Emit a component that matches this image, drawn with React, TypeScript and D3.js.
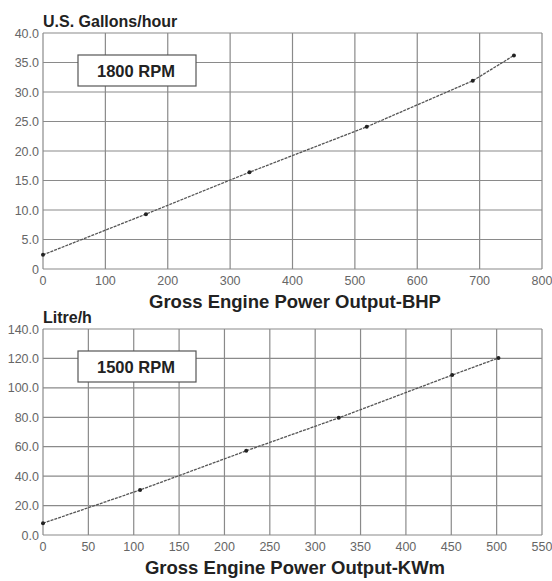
import React, { useEffect, useRef } from 'react'
import * as d3 from 'd3'

// 1800 RPM, US gallons per hour vs BHP
const bhpValues = [0, 165, 331, 519, 689, 755]
const gphValues = [2.4, 9.3, 16.4, 24.1, 31.9, 36.2]
const bhpTicks = [0, 100, 200, 300, 400, 500, 600, 700, 800]
const gphTicks = [0, 5, 10, 15, 20, 25, 30, 35, 40]

// 1500 RPM, litres per hour vs KWm
const kwmValues = [0, 107, 224, 326, 451, 502]
const lphValues = [8.0, 30.6, 57.2, 79.6, 108.7, 120.3]
const kwmTicks = [0, 50, 100, 150, 200, 250, 300, 350, 400, 450, 500, 550]
const lphTicks = [0, 20, 40, 60, 80, 100, 120, 140]

interface PanelCfg {
  top: number
  bottom: number
  xMax: number
  yMax: number
  xs: number[]
  ys: number[]
  xTicks: number[]
  yTicks: number[]
  yFmt: (v: number) => string
  yTitle: string
  xTitle: string
  rpm: string
}

const drawPanel = (svg: d3.Selection<SVGSVGElement, unknown, null, undefined>, cfg: PanelCfg) => {
  const left = 43
  const right = 542
  const x = d3.scaleLinear([0, cfg.xMax], [left, right])
  const y = d3.scaleLinear([0, cfg.yMax], [cfg.bottom, cfg.top])
  const g = svg.append('g')

  // grid
  g.selectAll('line.vx')
    .data(cfg.xTicks)
    .enter()
    .append('line')
    .attr('x1', (d) => x(d))
    .attr('x2', (d) => x(d))
    .attr('y1', cfg.top)
    .attr('y2', cfg.bottom)
    .attr('stroke', '#8a8a8a')
    .attr('stroke-width', 1.2)
  g.selectAll('line.hy')
    .data(cfg.yTicks)
    .enter()
    .append('line')
    .attr('x1', left)
    .attr('x2', right)
    .attr('y1', (d) => y(d))
    .attr('y2', (d) => y(d))
    .attr('stroke', '#8a8a8a')
    .attr('stroke-width', 1.2)

  // tick labels
  g.selectAll('text.yt')
    .data(cfg.yTicks)
    .enter()
    .append('text')
    .attr('x', left - 4)
    .attr('y', (d) => y(d) + 4.5)
    .attr('text-anchor', 'end')
    .attr('font-size', 12.5)
    .attr('fill', '#666')
    .text((d) => cfg.yFmt(d))
  g.selectAll('text.xt')
    .data(cfg.xTicks)
    .enter()
    .append('text')
    .attr('x', (d) => x(d))
    .attr('y', cfg.bottom + 16)
    .attr('text-anchor', 'middle')
    .attr('font-size', 12.5)
    .attr('fill', '#666')
    .text((d) => String(d))

  // titles
  g.append('text')
    .attr('x', left)
    .attr('y', cfg.top - 6)
    .attr('font-size', 16)
    .attr('font-weight', 'bold')
    .attr('fill', '#222')
    .text(cfg.yTitle)
  g.append('text')
    .attr('x', 295)
    .attr('y', cfg.bottom + 39)
    .attr('text-anchor', 'middle')
    .attr('font-size', 18.5)
    .attr('font-weight', 'bold')
    .attr('fill', '#222')
    .text(cfg.xTitle)

  // rpm box
  g.append('rect')
    .attr('x', 78)
    .attr('y', cfg.top + 22)
    .attr('width', 118)
    .attr('height', 31)
    .attr('fill', '#fff')
    .attr('stroke', '#555')
    .attr('stroke-width', 1.2)
  g.append('text')
    .attr('x', 136)
    .attr('y', cfg.top + 44)
    .attr('text-anchor', 'middle')
    .attr('font-size', 16.5)
    .attr('font-weight', 'bold')
    .attr('fill', '#222')
    .text(cfg.rpm)

  // series
  const pts = cfg.xs.map((v, i) => ({ x: v, y: cfg.ys[i] }))
  const line = d3
    .line<{ x: number; y: number }>()
    .x((d) => x(d.x))
    .y((d) => y(d.y))
  g.append('path')
    .attr('d', line(pts) as string)
    .attr('fill', 'none')
    .attr('stroke', '#555')
    .attr('stroke-width', 1.3)
    .attr('stroke-dasharray', '3,1')
  g.selectAll('circle')
    .data(pts)
    .enter()
    .append('circle')
    .attr('cx', (d) => x(d.x))
    .attr('cy', (d) => y(d.y))
    .attr('r', 2)
    .attr('fill', '#222')
}

const App: React.FC = () => {
  const svgRef = useRef<SVGSVGElement>(null)

  useEffect(() => {
    const svg = d3.select(svgRef.current as SVGSVGElement)
    svg.selectAll('*').remove()
    svg.append('rect').attr('width', 552).attr('height', 581).attr('fill', '#fff')
    drawPanel(svg, {
      top: 33,
      bottom: 269,
      xMax: 800,
      yMax: 40,
      xs: bhpValues,
      ys: gphValues,
      xTicks: bhpTicks,
      yTicks: gphTicks,
      yFmt: (v) => (v === 0 ? '0' : v.toFixed(1)),
      yTitle: 'U.S. Gallons/hour',
      xTitle: 'Gross Engine Power Output-BHP',
      rpm: '1800 RPM',
    })
    drawPanel(svg, {
      top: 329,
      bottom: 535,
      xMax: 550,
      yMax: 140,
      xs: kwmValues,
      ys: lphValues,
      xTicks: kwmTicks,
      yTicks: lphTicks,
      yFmt: (v) => v.toFixed(1),
      yTitle: 'Litre/h',
      xTitle: 'Gross Engine Power Output-KWm',
      rpm: '1500 RPM',
    })
  }, [])

  return (
    <svg
      ref={svgRef}
      width={552}
      height={581}
      style={{ position: 'absolute', left: 0, top: 0, fontFamily: '"Liberation Sans", Arial, sans-serif' }}
    />
  )
}

export default App
